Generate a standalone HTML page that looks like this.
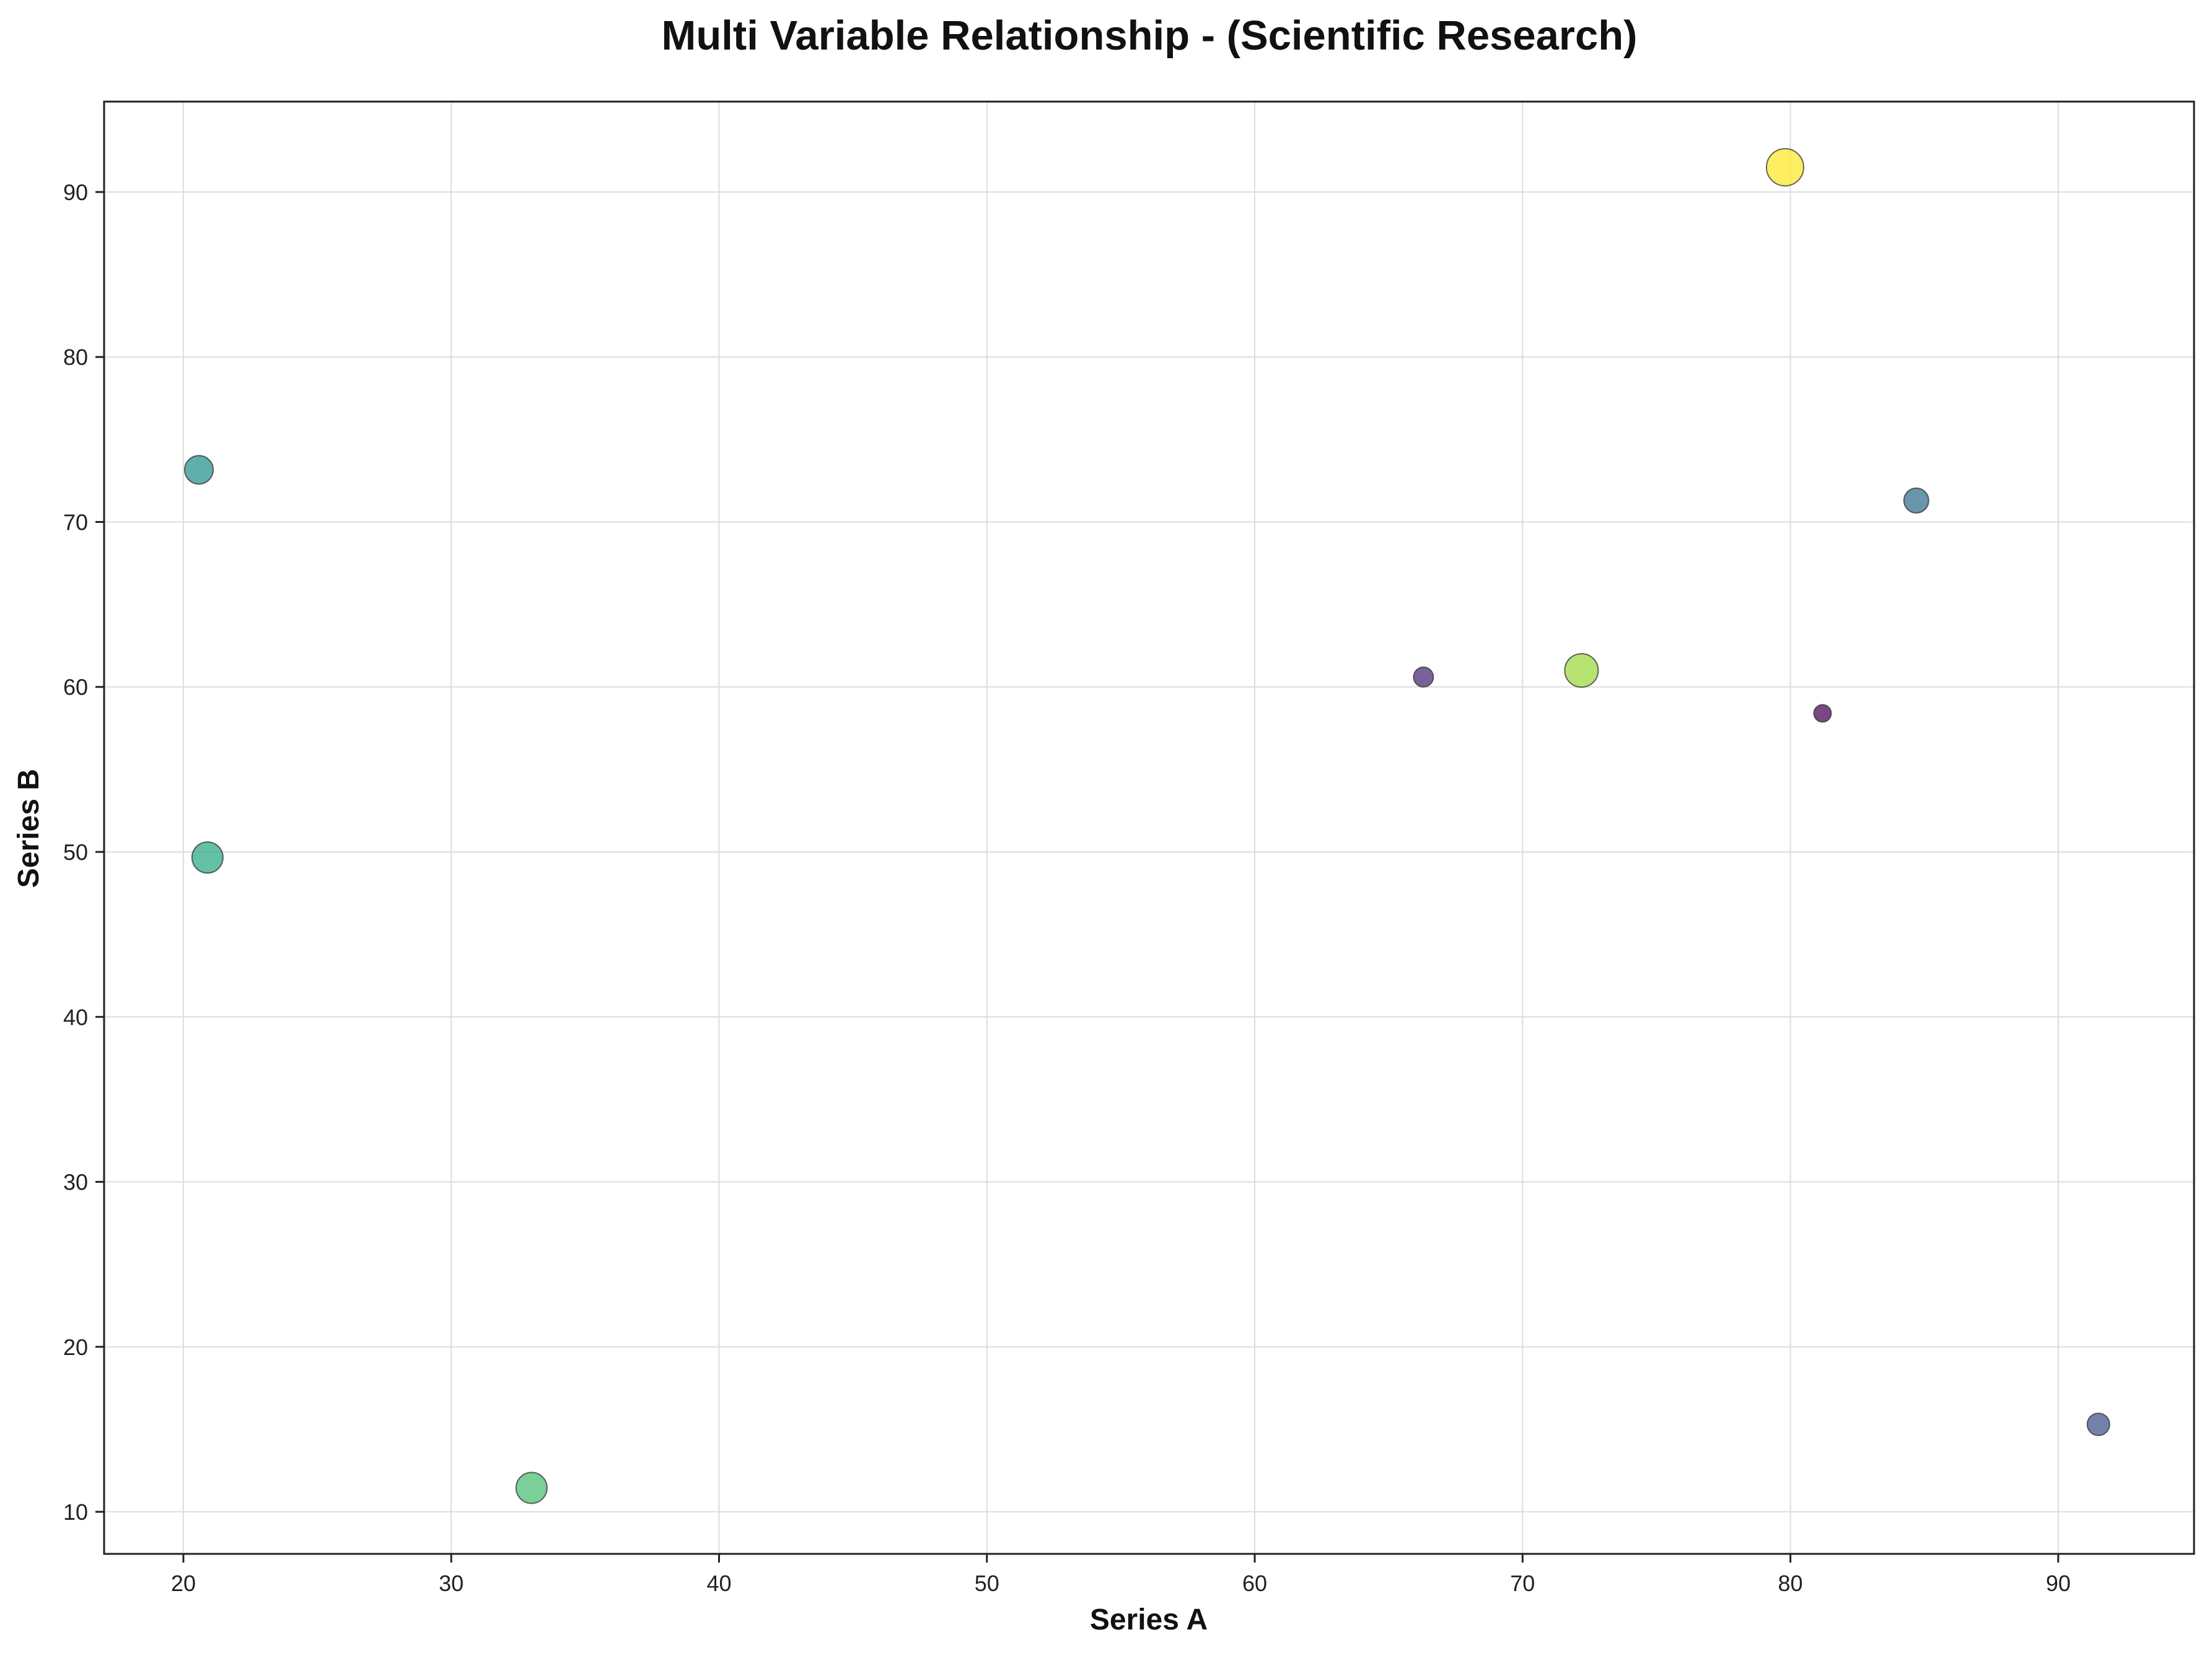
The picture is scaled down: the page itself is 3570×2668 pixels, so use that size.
<!DOCTYPE html>
<html><head><meta charset="utf-8"><style>
html,body{margin:0;padding:0;background:#fff;}
svg{display:block;font-family:"Liberation Sans",Arial,sans-serif;}
</style></head><body>
<svg id="chart" width="3570" height="2668" viewBox="0 0 3570 2668" xmlns="http://www.w3.org/2000/svg">
<rect width="3570" height="2668" fill="#fff"/>
<text x="1855" y="80" text-anchor="middle" font-size="67" font-weight="bold" fill="#111">Multi Variable Relationship - (Scientific Research)</text>
<g id="grid"></g><g id="ticks"></g><g id="points"></g>
<rect x="168" y="164" width="3373" height="2344" fill="none" stroke="#222" stroke-width="3"/>
<text x="1854" y="2630" text-anchor="middle" font-size="48" font-weight="bold" fill="#111">Series A</text>
<text transform="translate(62,1337) rotate(-90)" text-anchor="middle" font-size="48" font-weight="bold" fill="#111">Series B</text>
</svg>
<script>
const seriesA = [20.58, 20.9, 33.0, 66.3, 72.2, 79.8, 81.2, 84.7, 91.5];
const seriesB = [73.16, 49.66, 11.45, 60.6, 61.0, 91.5, 58.4, 71.3, 15.3];
const colorValue = [0.5, 0.6, 0.7, 0.1, 0.85, 1.0, 0.0, 0.35, 0.25];
const sizeValue = [23, 25, 25, 16, 27, 30, 14, 20, 18];
const xTicks = [20, 30, 40, 50, 60, 70, 80, 90];
const yTicks = [10, 20, 30, 40, 50, 60, 70, 80, 90];

const L=168,R=3541,T=164,B=2508;
const xMin=17.04,xMax=95.07,yMin=7.45,yMax=95.48;
const sx=v=>L+(v-xMin)/(xMax-xMin)*(R-L);
const sy=v=>B-(v-yMin)/(yMax-yMin)*(B-T);
const NS="http://www.w3.org/2000/svg";
function mk(tag,attrs,parent){const e=document.createElementNS(NS,tag);for(const k in attrs)e.setAttribute(k,attrs[k]);parent.appendChild(e);return e;}
const vir=[[68,1,84],[72,40,120],[62,74,137],[49,104,142],[38,130,142],[31,158,137],[53,183,121],[109,205,89],[180,222,44],[253,231,37]];
function viridis(t){t=Math.max(0,Math.min(1,t))*(vir.length-1);const i=Math.min(Math.floor(t),vir.length-2),f=t-i;const c=vir[i].map((v,k)=>Math.round(v+(vir[i+1][k]-v)*f));return `rgb(${c[0]},${c[1]},${c[2]})`;}
const grid=document.getElementById('grid'),ticks=document.getElementById('ticks'),pts=document.getElementById('points');
xTicks.forEach(v=>{
  const x=sx(v);
  const g=mk('line',{x1:x,x2:x,y1:T,y2:B,stroke:'#ddd','stroke-width':2},grid);
  
  
  mk('line',{x1:x,x2:x,y1:B,y2:B+14,stroke:'#222','stroke-width':3},ticks);
  const t=mk('text',{x:x,y:B+60,'text-anchor':'middle','font-size':36,fill:'#222'},ticks);
  t.textContent=v;
  
  
});
yTicks.forEach(v=>{
  const y=sy(v);
  const g=mk('line',{x1:L,x2:R,y1:y,y2:y,stroke:'#ddd','stroke-width':2},grid);
  
  
  mk('line',{x1:L-14,x2:L,y1:y,y2:y,stroke:'#222','stroke-width':3},ticks);
  const t=mk('text',{x:L-26,y:y+13,'text-anchor':'end','font-size':36,fill:'#222'},ticks);
  t.textContent=v;
  
  
});
seriesA.forEach((a,i)=>{
  const c=mk('circle',{cx:sx(a),cy:sy(seriesB[i]),r:sizeValue[i],fill:viridis(colorValue[i]),'fill-opacity':0.72,stroke:'#333','stroke-opacity':0.75,'stroke-width':2},pts);
  
  
});
</script>
</body></html>
